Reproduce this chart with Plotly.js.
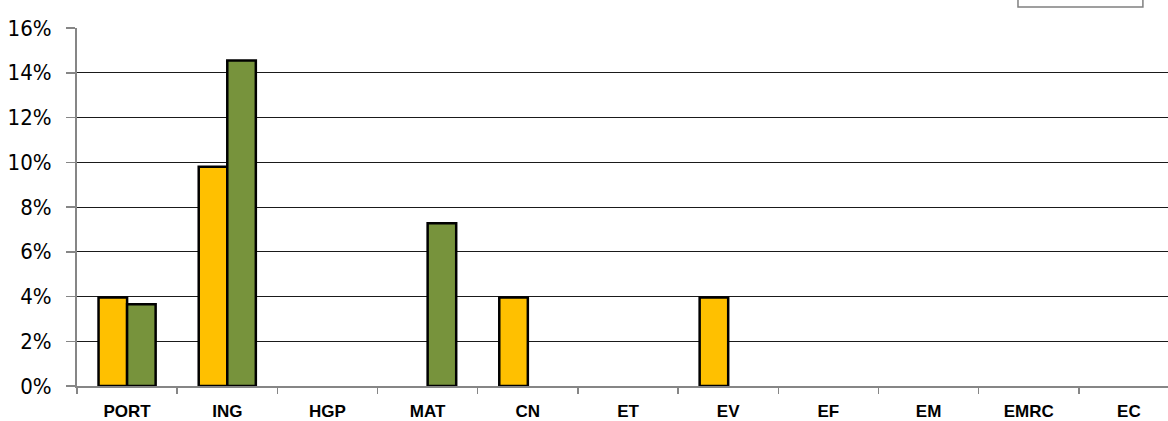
<!DOCTYPE html>
<html>
<head>
<meta charset="utf-8">
<script src="https://cdn.plot.ly/plotly-3.0.1.min.js"></script>
<style>html,body{margin:0;padding:0;background:#fff;}#chart{width:1168px;height:421px;}</style>
</head>
<body>
<div id="chart"></div>
<script>
var categories = ["PORT","ING","HGP","MAT","CN","ET","EV","EF","EM","EMRC","EC"];
var seriesYellow = [0.0395, 0.098, null, null, 0.0395, null, 0.0395, null, null, null, null];
var seriesGreen  = [0.0365, 0.1455, null, 0.0727, null, null, null, null, null, null, null];
var yTickVals = [0,0.02,0.04,0.06,0.08,0.10,0.12,0.14,0.16];
var gridVals = [0.02,0.04,0.06,0.08,0.10,0.12,0.14];

var traces = [
  {type:'bar', x:categories, y:seriesYellow, name:'', marker:{color:'#FFC000', line:{color:'#000', width:2.5}}, yaxis:'y'},
  {type:'bar', x:categories, y:seriesGreen, name:'', marker:{color:'#77933C', line:{color:'#000', width:2.5}}, yaxis:'y'}
];
var layout = {
  width:1168, height:421,
  margin:{l:77, r:0, t:28, b:35},
  paper_bgcolor:'#fff', plot_bgcolor:'rgba(0,0,0,0)',
  showlegend:false,
  barmode:'group', bargap:0.43, bargroupgap:0,
  xaxis:{type:'category', range:[-0.5, 10.39], tickson:'boundaries', ticks:'outside', ticklen:6, tickwidth:1.5, tickcolor:'#868686',
         showline:true, linecolor:'#868686', linewidth:2, showgrid:false, zeroline:false,
         tickfont:{family:'"Liberation Sans", Arial, sans-serif', size:17, color:'#000', weight:'bold'}, ticklabelstandoff:9},
  yaxis:{range:[0,0.16], tickvals:yTickVals, tickformat:'.0%', ticks:'outside', ticklen:9, tickwidth:1.5, tickcolor:'#868686',
         showline:true, linecolor:'#868686', linewidth:2, showgrid:false, zeroline:false, ticklabelstandoff:10,
         tickfont:{family:'Tahoma, "DejaVu Sans Condensed", "DejaVu Sans", sans-serif', size:22, color:'#000'}},
  yaxis2:{overlaying:'y', range:[0,0.16], tickvals:gridVals, showticklabels:false, ticks:'', showgrid:true, gridcolor:'#1a1a1a', gridwidth:1, zeroline:false, showline:false},
  shapes:[{type:'rect', xref:'paper', yref:'paper', x0:0.8625, x1:0.977, y0:1.0587, y1:1.3, line:{color:'#808080', width:1.5}, fillcolor:'rgba(0,0,0,0)'}]
};
traces.push({type:'scatter', x:[categories[0]], y:[null], yaxis:'y2', hoverinfo:'skip', showlegend:false});
Plotly.newPlot('chart', traces, layout, {staticPlot:true});
</script>
</body>
</html>
